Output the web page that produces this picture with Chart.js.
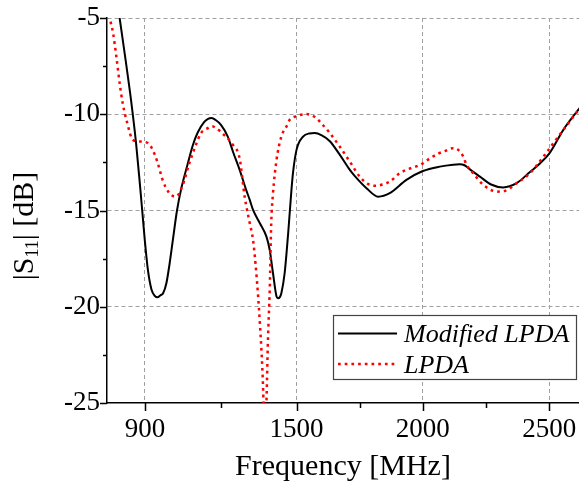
<!DOCTYPE html>
<html>
<head>
<meta charset="utf-8">
<title>|S11| vs frequency</title>
<script src="https://cdn.jsdelivr.net/npm/chart.js@4.4.1/dist/chart.umd.min.js"></script>
<style>
    html, body { margin: 0; padding: 0; background: #fff; }
    #wrap { width: 579px; height: 485px; }
</style>
</head>
<body>
<div id="wrap"><canvas id="s11_chart" width="579" height="485"></canvas></div>
<script>
// Modified LPDA: frequency (MHz) and |S11| (dB)
var freqModified = [785, 800, 827, 845, 865, 880, 890, 900, 912, 926, 940, 950, 962, 972, 985, 998, 1011, 1027, 1045,
    1069, 1090, 1109, 1135, 1150, 1164, 1180, 1201, 1228, 1250, 1275, 1300, 1315, 1328, 1355, 1381, 1394, 1407, 1421, 1427,
    1434, 1440, 1453, 1467, 1480, 1486, 1500, 1526, 1550, 1572, 1600, 1632, 1671, 1711, 1730, 1777, 1823, 1869, 1935, 2000,
    2067, 2120, 2146, 2165, 2190, 2226, 2270, 2318, 2371, 2424, 2460, 2500, 2556, 2615, 2625];
var s11Modified = [-3.6, -5.0, -7.5, -9.25, -11.5, -13.6, -15.1, -16.6, -18.1, -19.1, -19.45, -19.51, -19.4, -19.3, -18.78, -17.74, -16.5, -15.0, -13.8,
    -12.6, -11.6, -10.95, -10.4, -10.24, -10.2, -10.3, -10.55, -11.16, -12.0, -12.89, -13.9, -14.45, -14.97, -15.66, -16.36, -17.05, -18.26, -19.47, -19.56,
    -19.5, -19.3, -18.26, -16.18, -13.93, -13.06, -11.85, -11.16, -11.0, -10.98, -11.1, -11.4, -12.1, -12.89, -13.2, -13.84, -14.28, -14.1, -13.41, -12.95,
    -12.72, -12.62, -12.6, -12.65, -12.9, -13.24, -13.65, -13.8, -13.58, -13.0, -12.6, -12.05, -10.81, -9.77, -9.6];

// LPDA: frequency (MHz) and |S11| (dB)
var freqLpda = [755, 761, 774, 787, 800, 812, 830, 852, 885, 912, 931, 951, 970, 997, 1023, 1050, 1076, 1102, 1122, 1149,
    1165, 1182, 1215, 1249, 1275, 1295, 1315, 1328, 1341, 1355, 1368, 1374, 1381, 1387, 1394, 1400, 1407, 1421, 1440, 1460,
    1473, 1500, 1539, 1579, 1592, 1632, 1671, 1711, 1750, 1780, 1810, 1840, 1869, 1909, 2000, 2027, 2060, 2090, 2120, 2140,
    2160, 2173, 2199, 2232, 2265, 2292, 2325, 2371, 2424, 2483, 2536, 2580, 2615, 2625];
var s11Lpda = [-4.5, -5.0, -5.78, -7.0, -8.38, -9.42, -10.45, -11.33, -11.42, -11.5, -11.85, -12.54, -13.41, -14.1, -14.28, -13.67, -12.54, -11.59, -10.98, -10.72,
    -10.62, -10.72, -11.1, -11.6, -12.3, -14.3, -15.66, -16.53, -18.26, -20.86, -24.33, -27.5, -25.0, -21.72, -19.13, -15.66, -14.1, -12.37, -11.16, -10.64,
    -10.29, -10.1, -9.99, -10.2, -10.38, -10.98, -11.68, -12.46, -13.24, -13.6, -13.72, -13.65, -13.5, -13.06, -12.55, -12.3, -12.05, -11.9, -11.76, -11.85,
    -12.2, -12.63, -13.06, -13.58, -13.9, -14.02, -13.98, -13.58, -13.06, -12.1, -11.16, -10.4, -9.8, -9.65];

var seriesLabels = ['Modified LPDA', 'LPDA'];
var xMajorTicks = [900, 1500, 2000, 2500];
var xMinorTicks = [1200, 1750, 2250];
var yMajorTicks = [-25, -20, -15, -10, -5];
var yMinorTicks = [-22.5, -17.5, -12.5, -7.5];

var serif = '"Liberation Serif", "Times New Roman", serif';
Chart.defaults.font.family = serif;
Chart.defaults.color = '#000';

function toPoints(xs, ys) {
    return xs.map(function (x, i) { return {x: x, y: ys[i]}; });
}

// tick marks on the outside of the left and bottom axes
var axisTicks = {
    id: 'axisTicks',
    afterDraw: function (chart) {
        var ctx = chart.ctx, area = chart.chartArea;
        var xs = chart.scales.x, ys = chart.scales.y;
        ctx.save();
        ctx.strokeStyle = '#000';
        ctx.lineWidth = 1.5;
        ctx.beginPath();
        yMajorTicks.forEach(function (v) {
            var p = Math.round(ys.getPixelForValue(v)) + 0.5;
            ctx.moveTo(area.left - 7, p); ctx.lineTo(area.left, p);
        });
        yMinorTicks.forEach(function (v) {
            var p = Math.round(ys.getPixelForValue(v)) + 0.5;
            ctx.moveTo(area.left - 4, p); ctx.lineTo(area.left, p);
        });
        xMajorTicks.forEach(function (v) {
            var p = Math.round(xs.getPixelForValue(v)) + 0.5;
            ctx.moveTo(p, area.bottom); ctx.lineTo(p, area.bottom + 8);
        });
        xMinorTicks.forEach(function (v) {
            var p = Math.round(xs.getPixelForValue(v)) + 0.5;
            ctx.moveTo(p, area.bottom); ctx.lineTo(p, area.bottom + 5);
        });
        ctx.stroke();
        ctx.restore();
    }
};

// y title with a subscript: |S11| [dB]
var yTitle = {
    id: 'yTitle',
    afterDraw: function (chart) {
        var ctx = chart.ctx;
        var big = '30px ' + serif, small = '18px ' + serif;
        ctx.save();
        ctx.translate(33, 226);
        ctx.rotate(-Math.PI / 2);
        ctx.fillStyle = '#000';
        ctx.textBaseline = 'alphabetic';
        ctx.font = big;
        var w1 = ctx.measureText('|S').width, w3 = ctx.measureText('| [dB]').width;
        ctx.font = small;
        var w2 = ctx.measureText('11').width;
        var x0 = -(w1 + w2 + w3) / 2;
        ctx.font = big;
        ctx.fillText('|S', x0, 0);
        ctx.font = small;
        ctx.fillText('11', x0 + w1, 5);
        ctx.font = big;
        ctx.fillText('| [dB]', x0 + w1 + w2, 0);
        ctx.restore();
    }
};

// boxed legend in the lower right corner of the plot
var boxLegend = {
    id: 'boxLegend',
    afterDatasetsDraw: function (chart) {
        var ctx = chart.ctx;
        var sets = chart.data.datasets;
        ctx.save();
        ctx.fillStyle = '#fff';
        ctx.fillRect(333, 315, 244, 65);
        ctx.strokeStyle = '#444';
        ctx.lineWidth = 1.2;
        ctx.strokeRect(333.5, 315.5, 243, 64);
        var rows = [333.5, 364];
        var base = [342, 373];
        sets.forEach(function (ds, i) {
            ctx.strokeStyle = ds.borderColor;
            ctx.lineWidth = ds.borderWidth;
            ctx.setLineDash(ds.borderDash || []);
            ctx.beginPath();
            ctx.moveTo(338, rows[i]);
            ctx.lineTo(397, rows[i]);
            ctx.stroke();
            ctx.setLineDash([]);
            ctx.fillStyle = '#000';
            ctx.font = 'italic 26px ' + serif;
            ctx.textBaseline = 'alphabetic';
            ctx.fillText(ds.label, 404, base[i]);
        });
        ctx.restore();
    }
};

function gridColor(hidden) {
    return function (c) {
        if (c.tick && hidden.indexOf(c.tick.value) >= 0) return 'rgba(0,0,0,0)';
        return '#a0a0a0';
    };
}

new Chart(document.getElementById('s11_chart').getContext('2d'), {
    type: 'line',
    data: {
        datasets: [{
            label: seriesLabels[0],
            data: toPoints(freqModified, s11Modified),
            borderColor: '#000000',
            borderWidth: 2,
            pointRadius: 0,
            fill: false,
            cubicInterpolationMode: 'monotone',
            order: 2
        }, {
            label: seriesLabels[1],
            data: toPoints(freqLpda, s11Lpda),
            borderColor: '#ff0000',
            borderWidth: 2.5,
            borderDash: [2.7, 4],
            pointRadius: 0,
            fill: false,
            cubicInterpolationMode: 'monotone',
            order: 1
        }]
    },
    options: {
        responsive: false,
        animation: false,
        layout: { padding: { top: 18, right: 0, left: 0, bottom: 0 } },
        plugins: {
            legend: { display: false },
            tooltip: { enabled: false }
        },
        scales: {
            x: {
                type: 'linear',
                min: 750,
                max: 2618,
                afterBuildTicks: function (scale) {
                    scale.ticks = xMajorTicks.map(function (v) { return {value: v}; });
                },
                afterFit: function (scale) {
                    scale.height = 82;
                    scale.paddingLeft = 0;
                    scale.paddingRight = 0;
                },
                ticks: {
                    autoSkip: false,
                    maxRotation: 0,
                    padding: 11,
                    font: { size: 27 },
                    callback: function (v) { return String(v); }
                },
                grid: {
                    drawTicks: false,
                    color: gridColor([]),
                    lineWidth: 1
                },
                border: { display: true, color: '#000', width: 1.5, dash: [4, 3] },
                title: {
                    display: true,
                    text: 'Frequency [MHz]',
                    font: { size: 30 },
                    padding: { top: 0, bottom: 0 }
                }
            },
            y: {
                type: 'linear',
                min: -25,
                max: -5,
                afterBuildTicks: function (scale) {
                    scale.ticks = yMajorTicks.map(function (v) { return {value: v}; });
                },
                afterFit: function (scale) {
                    scale.width = 107;
                    scale.paddingTop = 0;
                    scale.paddingBottom = 0;
                },
                ticks: {
                    padding: 7,
                    font: { size: 27 },
                    callback: function (v) { return String(v); }
                },
                grid: {
                    drawTicks: false,
                    color: gridColor([-25]),
                    lineWidth: 1
                },
                border: { display: true, color: '#000', width: 1.5, dash: [4, 3] }
            }
        }
    },
    plugins: [boxLegend, axisTicks, yTitle]
});
</script>
</body>
</html>
